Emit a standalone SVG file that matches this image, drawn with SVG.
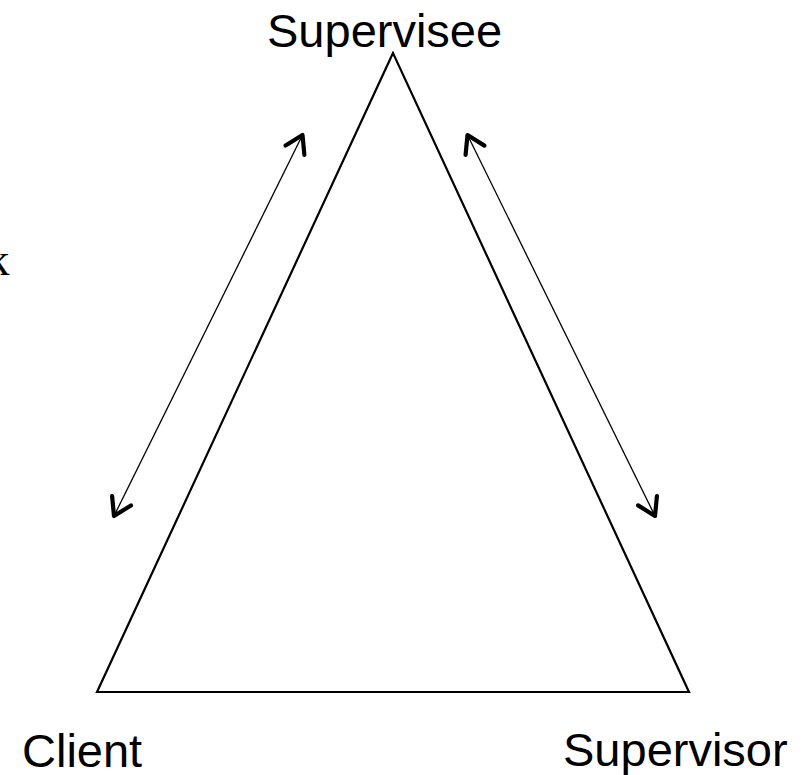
<svg xmlns="http://www.w3.org/2000/svg" width="805" height="775" viewBox="0 0 805 775">
  <style>
    .lbl { font-family: "Liberation Sans", Arial, sans-serif; font-size: 47px; fill: #000; }
    .frag { font-family: "Liberation Serif", "Times New Roman", serif; font-size: 47px; fill: #000; }
    .tri { fill: none; stroke: #000; stroke-width: 2.2; stroke-linejoin: miter; }
    .conn { fill: none; stroke: #000; stroke-width: 1.3; marker-start: url(#ah); marker-end: url(#ah); }
  </style>
  <defs>
    <marker id="ah" markerUnits="userSpaceOnUse" viewBox="-26 -16 30 32" markerWidth="30" markerHeight="32" refX="0" refY="0" orient="auto-start-reverse" overflow="visible">
      <path d="M-17,-10.5 L0,0 L-17,10.5" fill="none" stroke="#000" stroke-width="4.2" stroke-linecap="round" stroke-linejoin="round"/>
    </marker>
  </defs>
  <rect width="805" height="775" fill="#fff"/>
  <g id="triangle">
    <polygon class="tri" points="393,53 97,692 689,692"/>
  </g>
  <g id="supervisee">
    <text class="lbl" x="267" y="47">Supervisee</text>
  </g>
  <g id="client">
    <text class="lbl" x="22" y="767">Client</text>
  </g>
  <g id="supervisor">
    <text class="lbl" x="563" y="766">Supervisor</text>
  </g>
  <g id="fragment">
    <text class="frag" x="-14" y="275">k</text>
  </g>
  <g id="connectors">
    <line class="conn" x1="114" y1="516" x2="302.5" y2="135"/>
    <line class="conn" x1="655" y1="516" x2="467.5" y2="135"/>
  </g>
</svg>
